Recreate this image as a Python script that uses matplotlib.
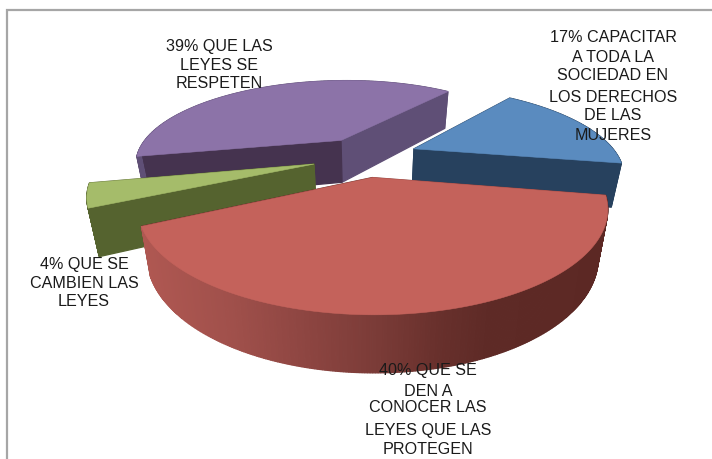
import numpy as np
import matplotlib
matplotlib.use("Agg")
import matplotlib.pyplot as plt
from matplotlib.patches import Polygon

plt.rcParams['font.family'] = ['Liberation Sans', 'DejaVu Sans']

names = ["blue", "red", "green", "purple"]
values = [17, 40, 4, 39]
explode = [0.245, 0.17, 0.26, 0.25]
lift = [0.07, 0.0, 0.06, 0.05]
radius = [0.97, 1.0, 0.99, 0.985]
label_lines = [
    ["17% CAPACITAR", "A TODA LA", "SOCIEDAD EN", "LOS DERECHOS", "DE LAS", "MUJERES"],
    ["40% QUE SE", "DEN A", "CONOCER LAS", "LEYES QUE LAS", "PROTEGEN"],
    ["4% QUE SE", "CAMBIEN LAS", "LEYES"],
    ["39% QUE LAS", "LEYES SE", "RESPETEN"],
]
label_x = [613, 428, 84, 219]
label_y = [
    [38, 57, 75, 97, 116, 135],
    [371, 391, 408, 430, 449],
    [264, 283, 302],
    [46, 65, 84],
]
top_colors = ["#5A8BBF", "#C4625B", "#A5BC6A", "#8C73A8"]
wall_colors = {"blue": "#27415E", "green": "#55632F", "purple": "#5F4F76"}
cut_colors = {"blue": ("#27415E", "#27415E"), "red": ("#8A3F3A", "#5E2A25"),
              "green": ("#55632F", "#55632F"), "purple": ("#45334F", "#5F4F76")}

CX, CY, A, B, K, H, CONV = 367, 162, 214, 88, 0.28, 44, 0.96
RED_START = 10.0


def project(X, Y):
    s = 1 / (1 - K * Y)
    return CX + A * X * s, CY + B * Y * s, s


def lower(sx, sy, s):
    return CX + (sx - CX) * CONV, sy + H * s ** 0.7


def lerp_red(x):
    stops_x = [140, 230, 300, 372, 440, 490, 610]
    r = [176, 160, 143, 124, 104, 94, 92]
    g = [88, 80, 70, 60, 48, 42, 40]
    b = [82, 75, 66, 56, 44, 38, 36]
    return (np.interp(x, stops_x, r) / 255, np.interp(x, stops_x, g) / 255, np.interp(x, stops_x, b) / 255)


fig = plt.figure(figsize=(7.12, 4.59), dpi=100)
ax = fig.add_axes([0, 0, 1, 1])
ax.set_xlim(0, 712)
ax.set_ylim(459, 0)
ax.axis("off")

# chart frame
ax.plot([6.5, 6.5, 712], [459, 9.5, 9.5], color="#A6A6A6", lw=1.6, zorder=1, solid_joinstyle="miter")

# angles, clockwise on the screen, from the values
total = sum(values)
sweeps = [v / total * 360 for v in values]
starts = {}
ang = RED_START - sweeps[0]
for n, sw in zip(names, sweeps):
    starts[n] = ang
    ang += sw

draw_order = ["purple", "blue", "green", "red"]
z = 2
for n in draw_order:
    i = names.index(n)
    t0, sw = starts[n], sweeps[i]
    mid = np.radians(t0 + sw / 2)
    ox, oy = explode[i] * np.cos(mid), explode[i] * np.sin(mid) - lift[i]
    tt = np.radians(np.linspace(t0, t0 + sw, max(int(sw * 2), 8)))
    Xs, Ys = ox + radius[i] * np.cos(tt), oy + radius[i] * np.sin(tt)
    sx, sy, s = project(Xs, Ys)
    bx, by = lower(sx, sy, s)
    ax0, ay0, as0 = project(ox, oy)
    abx, aby = lower(ax0, ay0, as0)

    # cut faces
    ends = [(0, cut_colors[n][0]), (-1, cut_colors[n][1])]
    faces = []
    for idx, col in ends:
        faces.append(([[ax0, ay0], [sx[idx], sy[idx]], [bx[idx], by[idx]], [abx, aby]], col))
    # outer wall strips
    strips = []
    for j in range(len(sx) - 1):
        xm = (sx[j] + sx[j + 1]) / 2
        col = lerp_red(xm) if n == "red" else wall_colors[n]
        strips.append(([[sx[j], sy[j]], [sx[j + 1], sy[j + 1]], [bx[j + 1], by[j + 1]], [bx[j], by[j]]], col))
    allf = faces + strips
    allf.sort(key=lambda f: np.mean([p[1] for p in f[0]]))
    for pts, col in allf:
        ax.add_patch(Polygon(pts, closed=True, facecolor=col, edgecolor=col, lw=0.9, zorder=z))
        z += 1
    top = [[ax0, ay0]] + list(zip(sx, sy))
    ax.add_patch(Polygon(top, closed=True, facecolor=top_colors[i], edgecolor=top_colors[i], lw=0.4, zorder=z))
    z += 1

for lines, x, ys in zip(label_lines, label_x, label_y):
    for line, y in zip(lines, ys):
        ax.text(x, y, line, ha="center", va="center", fontsize=11.6, color="#1a1a1a", zorder=z)

fig.savefig("out.png", dpi=100)
